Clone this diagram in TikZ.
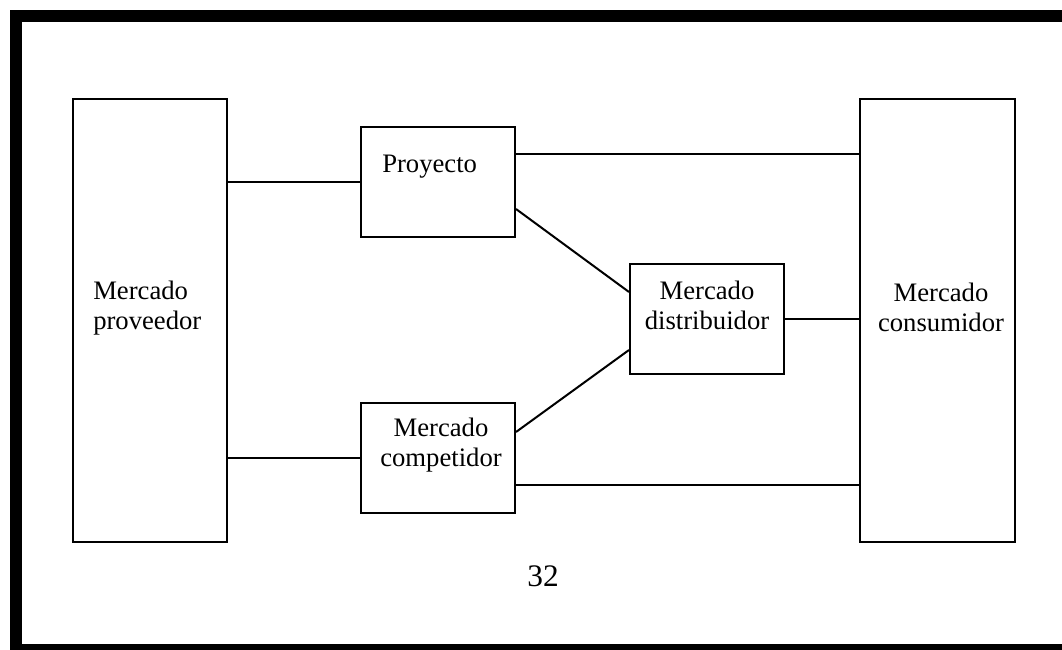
\documentclass[tikz,border=0pt]{standalone}
\usepackage{fontspec}
\setmainfont{Liberation Serif}
\usetikzlibrary{calc, positioning}

\begin{document}
\begin{tikzpicture}[
  x=0.75pt, y=-0.75pt,
  mbox/.style={draw=black, line width=1.5pt, fill=white, inner sep=0pt},
  tall/.style={mbox, minimum width=116pt, minimum height=332pt},
  small/.style={mbox, minimum width=115.5pt, minimum height=82.5pt},
  mtext/.style={font=\fontsize{20}{22.5}\selectfont, inner sep=0pt, align=center},
  link/.style={line width=1.5pt},
]
\useasboundingbox (0,0) rectangle (1062,649);
\draw[line width=9pt] (15.5,16.5) rectangle (1080,650);

\node[tall] (prov) at (150,320.5) {};
\node[tall] (cons) at (937.5,320.5) {};
\node[small] (proj) at (438,182) {};
\node[small] (comp) at (438,457.5) {};
\node[small] (dist) at (707,319) {};

\node[mtext, align=left, anchor=north west] (tprov) at (93,281) {Mercado\\proveedor};
\node[mtext, anchor=north] (tcons) at (941,283) {Mercado\\consumidor};
\node[mtext, anchor=north] (tdist) at (707,281) {Mercado\\distribuidor};
\node[mtext, anchor=north] (tcomp) at (441,418) {Mercado\\competidor};
\node[mtext, anchor=base west] (tproj) at (382,172) {Proyecto};
\node[mtext, font=\fontsize{23.5}{26}\selectfont, anchor=base] (page) at (543,586) {32};

\draw[link] (prov.east |- proj.west) -- (proj.west);
\draw[link] (prov.east |- comp.west) -- (comp.west);
\draw[link] ($(proj.east)+(0,-28)$) -- (cons.west |- {$(proj.east)+(0,-28)$});
\draw[link] ($(comp.east)+(0,27.5)$) -- (cons.west |- {$(comp.east)+(0,27.5)$});
\draw[link] (dist.east) -- (cons.west |- dist.east);
\draw[link] ($(proj.east)+(0,27)$) -- ($(dist.west)+(0,-27)$);
\draw[link] ($(comp.east)+(0,-25.5)$) -- ($(dist.west)+(0,31)$);
\end{tikzpicture}
\end{document}
